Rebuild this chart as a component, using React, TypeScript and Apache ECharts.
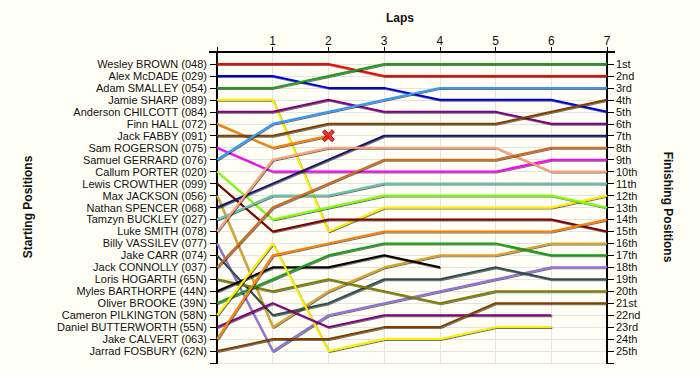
import React, { useEffect, useRef } from "react";
import * as echarts from "echarts";

// ---- data ----
const laps = [0, 1, 2, 3, 4, 5, 6, 7];
const lapTickLabels = ["", "1", "2", "3", "4", "5", "6", "7"];

const drivers = [
  "Wesley BROWN (048)",
  "Alex McDADE (029)",
  "Adam SMALLEY (054)",
  "Jamie SHARP (089)",
  "Anderson CHILCOTT (084)",
  "Finn HALL (072)",
  "Jack FABBY (091)",
  "Sam ROGERSON (075)",
  "Samuel GERRARD (076)",
  "Callum PORTER (020)",
  "Lewis CROWTHER (099)",
  "Max JACKSON (056)",
  "Nathan SPENCER (068)",
  "Tamzyn BUCKLEY (027)",
  "Luke SMITH (078)",
  "Billy VASSILEV (077)",
  "Jake CARR (074)",
  "Jack CONNOLLY (037)",
  "Loris HOGARTH (65N)",
  "Myles BARTHORPE (44N)",
  "Oliver BROOKE (39N)",
  "Cameron PILKINGTON (58N)",
  "Daniel BUTTERWORTH (55N)",
  "Jake CALVERT (063)",
  "Jarrad FOSBURY (62N)",
];

const finishLabels = [
  "1st", "2nd", "3rd", "4th", "5th", "6th", "7th", "8th", "9th", "10th",
  "11th", "12th", "13th", "14th", "15th", "16th", "17th", "18th", "19th", "20th",
  "21st", "22nd", "23rd", "24th", "25th",
];

// position of each driver at lap 0..n (shorter arrays = retired)
const wesleyBrown = [1, 1, 1, 2, 2, 2, 2, 2];
const alexMcdade = [2, 2, 3, 3, 4, 4, 4, 5];
const adamSmalley = [3, 3, 2, 1, 1, 1, 1, 1];
const jamieSharp = [4, 4, 15, 13, 13, 13, 13, 12];
const andersonChilcott = [5, 5, 4, 5, 5, 5, 6, 6];
const finnHall = [6, 8, 7];
const jackFabby = [7, 7, 6, 6, 6, 6, 5, 4];
const samRogerson = [8, 10, 10, 10, 10, 10, 9, 9];
const samuelGerrard = [9, 6, 5, 4, 3, 3, 3, 3];
const callumPorter = [10, 14, 13, 12, 12, 12, 12, 13];
const lewisCrowther = [11, 15, 14, 14, 14, 14, 14, 15];
const maxJackson = [12, 23, 20, 18, 17, 17, 16, 16];
const nathanSpencer = [13, 11, 9, 7, 7, 7, 7, 7];
const tamzynBuckley = [14, 12, 12, 11, 11, 11, 11, 11];
const lukeSmith = [15, 9, 8, 8, 8, 8, 10, 10];
const billyVassilev = [16, 25, 22, 21, 20, 19, 18, 18];
const jakeCarr = [17, 22, 21, 19, 19, 18, 19, 19];
const jackConnolly = [18, 13, 11, 9, 9, 9, 8, 8];
const lorisHogarth = [19, 20, 19, 20, 21, 20, 20, 20];
const mylesBarthorpe = [20, 18, 18, 17, 18];
const oliverBrooke = [21, 19, 17, 16, 16, 16, 17, 17];
const cameronPilkington = [22, 16, 25, 24, 24, 23, 23];
const danielButterworth = [23, 21, 23, 22, 22, 22, 22];
const jakeCalvert = [24, 17, 16, 15, 15, 15, 15, 14];
const jarradFosbury = [25, 24, 24, 23, 23, 21, 21, 21];

const positionsByDriver = [
  wesleyBrown, alexMcdade, adamSmalley, jamieSharp, andersonChilcott, finnHall,
  jackFabby, samRogerson, samuelGerrard, callumPorter, lewisCrowther, maxJackson,
  nathanSpencer, tamzynBuckley, lukeSmith, billyVassilev, jakeCarr, jackConnolly,
  lorisHogarth, mylesBarthorpe, oliverBrooke, cameronPilkington, danielButterworth,
  jakeCalvert, jarradFosbury,
];

const driverColors = [
  "#ff0000", "#0000e0", "#1ea01e", "#ffee00", "#800080", "#ff8000", "#804000",
  "#ff00ff", "#3399ff", "#80ff00", "#800000", "#daa520", "#191970", "#66c4a8",
  "#ffa07a", "#9370db", "#2f4f4f", "#d2691e", "#808000", "#000000", "#15a015",
  "#ffee00", "#800080", "#ff8000", "#804000",
];

// drivers whose retirement is marked with a cross
const crashedDrivers = ["Finn HALL (072)"];

const BG = "#fffff5";
const TEXT = "#111111";
const FONT = "'Liberation Sans', Arial, sans-serif";

export default function App() {
  const ref = useRef<HTMLDivElement>(null);

  useEffect(() => {
    document.body.style.margin = "0";
    document.body.style.background = BG;
    if (!ref.current) return;
    const chart = echarts.init(ref.current, null, { renderer: "svg" });

    const lineSeries = drivers.map((name, i) => ({
      type: "line",
      name,
      xAxisIndex: 0,
      yAxisIndex: 0,
      symbol: "none",
      z: 3,
      data: positionsByDriver[i].map((p, lap) => [laps[lap], p]),
      lineStyle: {
        width: 2,
        color: driverColors[i],
        shadowColor: "rgba(0,0,0,0.55)",
        shadowBlur: 0,
        shadowOffsetX: 1,
        shadowOffsetY: 1,
      },
      itemStyle: { color: driverColors[i] },
    }));

    const crashData = crashedDrivers.map((n) => {
      const arr = positionsByDriver[drivers.indexOf(n)];
      return [laps[arr.length - 1], arr[arr.length - 1]];
    });

    const yBase = {
      type: "value",
      min: 0,
      max: 26,
      interval: 1,
      inverse: true,
      axisLine: { show: true, lineStyle: { color: "#000", width: 2 } },
      axisTick: { show: true, length: 7, lineStyle: { color: "#000", width: 1 } },
      splitLine: { show: false },
    };

    chart.setOption({
      animation: false,
      backgroundColor: BG,
      grid: { left: 217, right: 93, top: 52, bottom: 12, containLabel: false },
      xAxis: {
        type: "value",
        position: "top",
        min: 0,
        max: 7,
        interval: 1,
        axisLine: { show: true, lineStyle: { color: "#000", width: 2 } },
        axisTick: { show: true, length: 5, lineStyle: { color: "#000", width: 1 } },
        axisLabel: {
          margin: 5,
          color: TEXT,
          fontSize: 12,
          fontFamily: FONT,
          formatter: (v: number) => lapTickLabels[v] ?? "",
        },
        splitLine: { show: true, lineStyle: { color: "#e4e4e4", width: 1 } },
      },
      yAxis: [
        {
          ...yBase,
          position: "left",
          axisLabel: {
            margin: 10,
            color: TEXT,
            fontSize: 11,
            fontFamily: FONT,
            formatter: (v: number) => drivers[v - 1] ?? "",
          },
          splitLine: { show: true, lineStyle: { color: "#e4e4e4", width: 1 } },
        },
        {
          ...yBase,
          position: "right",
          axisLabel: {
            margin: 9,
            color: TEXT,
            fontSize: 11,
            fontFamily: FONT,
            formatter: (v: number) => finishLabels[v - 1] ?? "",
          },
        },
      ],
      graphic: [
        {
          type: "line",
          shape: { x1: 209, y1: 52, x2: 217, y2: 52 },
          style: { stroke: "#000", lineWidth: 2 },
        },
        {
          type: "line",
          shape: { x1: 607, y1: 52, x2: 615, y2: 52 },
          style: { stroke: "#000", lineWidth: 2 },
        },
        {
          type: "text",
          x: 400,
          y: 18,
          style: {
            text: "Laps",
            fill: TEXT,
            font: `bold 12px ${FONT}`,
            textAlign: "center",
            textVerticalAlign: "middle",
          },
        },
        {
          type: "text",
          x: 28,
          y: 207,
          rotation: Math.PI / 2,
          style: {
            text: "Starting Positions",
            fill: TEXT,
            font: `bold 12px ${FONT}`,
            textAlign: "center",
            textVerticalAlign: "middle",
          },
        },
        {
          type: "text",
          x: 668,
          y: 207,
          rotation: -Math.PI / 2,
          style: {
            text: "Finishing Positions",
            fill: TEXT,
            font: `bold 12px ${FONT}`,
            textAlign: "center",
            textVerticalAlign: "middle",
          },
        },
      ],
      series: [
        ...lineSeries,
        {
          type: "scatter",
          name: "Crash",
          z: 5,
          data: crashData,
          symbol:
            "path://M0,2 L2,0 L5,3 L8,0 L10,2 L7,5 L10,8 L8,10 L5,7 L2,10 L0,8 L3,5 Z",
          symbolSize: 12,
          itemStyle: { color: "#ff0000", borderColor: "#500000", borderWidth: 1 },
        },
      ],
    });

    return () => chart.dispose();
  }, []);

  return (
    <div
      ref={ref}
      style={{ position: "fixed", left: 0, top: 0, width: 700, height: 375, background: BG }}
    />
  );
}
